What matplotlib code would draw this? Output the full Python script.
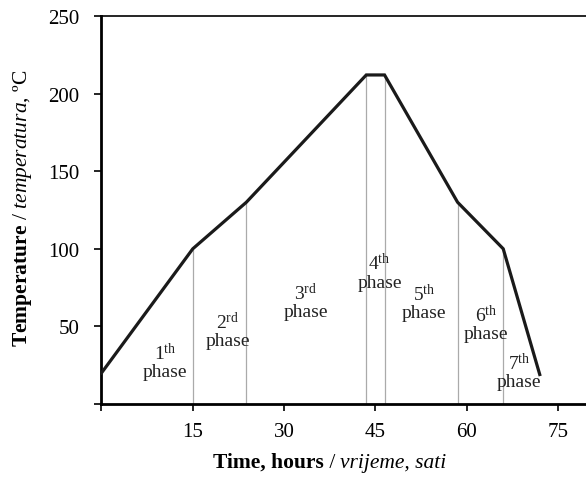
import matplotlib
matplotlib.use("Agg")
import matplotlib.pyplot as plt
import numpy as np

plt.rcParams['font.family'] = ['Liberation Serif', 'DejaVu Serif']
plt.rcParams['mathtext.fontset'] = 'custom'
plt.rcParams['mathtext.rm'] = 'Liberation Serif'
plt.rcParams['mathtext.it'] = 'Liberation Serif:italic'
plt.rcParams['mathtext.bf'] = 'Liberation Serif:bold'

# temperature profile (hours, degC)
time_h = [0, 15, 23.8, 43.5, 46.5, 58.5, 66, 72]
temp_c = [20, 100, 130, 212, 212, 130, 100, 19]

# phase boundaries
bounds = [15, 23.8, 43.5, 46.5, 58.5, 66]

# phase labels
phase_num = ['1', '2', '3', '4', '5', '6', '7']
phase_sup = ['th', 'rd', 'rd', 'th', 'th', 'th', 'th']
phase_x = [10.4, 20.7, 33.5, 45.7, 53.0, 63.2, 68.6]
phase_y = [27.7, 47.7, 66.4, 85.4, 65.8, 52.2, 21.3]

xticks = [0, 15, 30, 45, 60, 75]
xlabels = ['', '15', '30', '45', '60', '75']
yticks = [0, 50, 100, 150, 200, 250]
ylabels = ['', '50', '100', '150', '200', '250']

fig = plt.figure(figsize=(5.86, 4.81), dpi=100)
ax = fig.add_axes([0.1732, 0.158, 1 - 0.1732, 0.9647 - 0.158])

# thin grey lines from the axis up to the curve
tops = np.interp(bounds, time_h, temp_c)
ax.vlines(bounds, 0, tops, color='#aaaaaa', lw=0.9, zorder=1)

ax.plot(time_h, temp_c, color='#1a1a1a', lw=2.3, zorder=3, solid_joinstyle='miter')

for n, s, x, y in zip(phase_num, phase_sup, phase_x, phase_y):
    ax.text(x, y, n + r'$^{\mathrm{' + s + '}}$\nphase', ha='center', va='center',
            fontsize=14, linespacing=1.05, color='#222222', zorder=4)

ax.set_xlim(0, 79.6)
ax.set_ylim(0, 250)
ax.set_xticks(xticks, xlabels)
ax.set_yticks(yticks, ylabels)
ax.tick_params(axis='both', labelsize=15, length=5, width=1.2, direction='out')
ax.tick_params(axis='x', pad=8)
ax.tick_params(axis='y', pad=11)
ax.spines['right'].set_visible(False)
for sp in ['left', 'bottom']:
    ax.spines[sp].set_linewidth(2)
ax.spines['top'].set_linewidth(1.2)

# x label in three pieces (bold / regular / italic)
t1 = fig.text(213 / 586, 1 - 463 / 481, 'Time, hours', fontweight='bold',
              ha='left', va='center', fontsize=15.5)
p2 = ax.annotate(' / ', xy=(1, 0), xycoords=t1, va='bottom', ha='left',
                 fontsize=15.5, annotation_clip=False)
p3 = ax.annotate('vrijeme, sati', xy=(1, 0), xycoords=p2, va='bottom', ha='left',
                 fontsize=15.5, fontstyle='italic', annotation_clip=False)

fig.text(23 / 586, 1 - 208 / 481,
         r'$\mathbf{Temperature}$ / $\mathit{temperatura}$, ºC',
         ha='center', va='center', fontsize=15.5, rotation=90)

fig.savefig('out.png', dpi=100)
